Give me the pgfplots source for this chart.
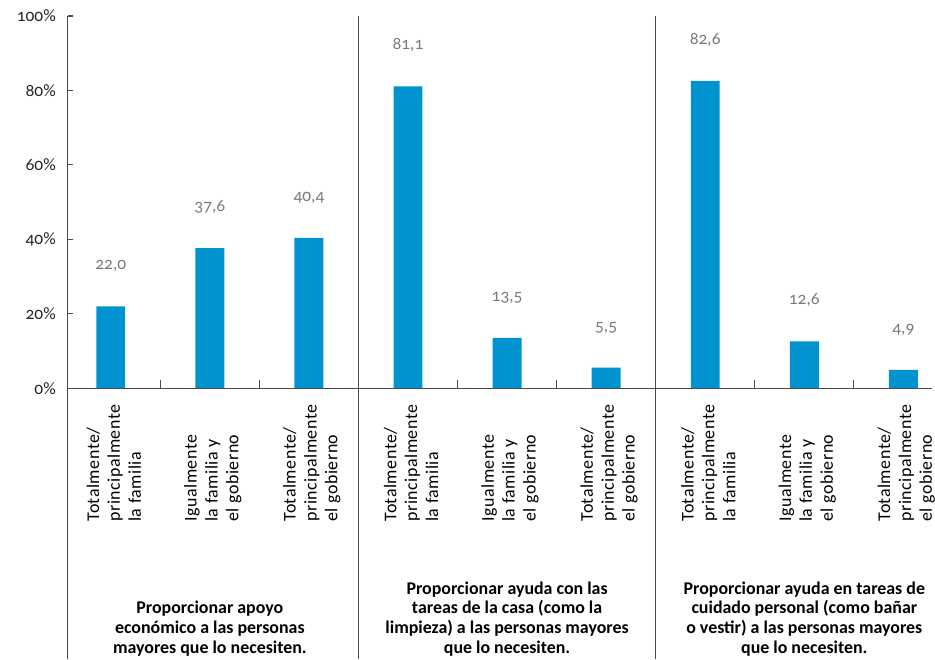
\documentclass[border=0pt]{standalone}
\usepackage{fontspec}
\setmainfont{Carlito}[Numbers=OldStyle]
\usepackage{pgfplots}
\pgfplotsset{compat=1.18}
\definecolor{barblue}{HTML}{0093D0}
\definecolor{axisgray}{HTML}{4A4A4A}
\definecolor{valgray}{HTML}{7A7A7A}
\begin{document}
\begin{tikzpicture}
\begin{axis}[
  x=99.3bp, y=3.73bp,
  xmin=-0.433, xmax=8.29, ymin=0, ymax=100,
  clip=false,
  axis x line*=bottom, axis y line*=left,
  axis line style={axisgray, line width=1.1pt},
  ybar, bar width=29bp,
  /pgf/number format/assume math mode=true,
  ytick={0,20,40,60,80,100},
  yticklabel={\pgfmathprintnumber{\tick}\%},
  yticklabel style={font=\fontsize{17.5}{20}\selectfont, text=black!85, anchor=east, inner sep=0pt},
  yticklabel shift=12bp,
  ytick style={axisgray, line width=1.1pt},
  tick align=inside,
  major tick length=5bp,
  xtick={0,...,8},
  major x tick style={draw=none},
  minor xtick={0.5,1.5,3.5,4.5,6.5,7.5},
  minor x tick style={axisgray, line width=1.1pt},
  minor tick length=8bp,
  xticklabels={
    {Totalmente/\\principalmente\\la familia},
    {Igualmente\\la familia y\\el gobierno},
    {Totalmente/\\principalmente\\el gobierno},
    {Totalmente/\\principalmente\\la familia},
    {Igualmente\\la familia y\\el gobierno},
    {Totalmente/\\principalmente\\el gobierno},
    {Totalmente/\\principalmente\\la familia},
    {Igualmente\\la familia y\\el gobierno},
    {Totalmente/\\principalmente\\el gobierno}},
  xticklabel style={font=\fontsize{18}{21}\selectfont\addfontfeature{LetterSpace=3}, rotate=90, anchor=west, align=left, inner sep=0pt, text=black, yshift=-3bp},
  xticklabel shift=134bp,
  nodes near coords={\pgfmathprintnumber[fixed,fixed zerofill,precision=1,use comma]{\pgfplotspointmeta}},
  every node near coord/.append style={font=\fontsize{17.5}{20}\selectfont, text=valgray, inner sep=0pt, yshift=34bp},
]
\addplot[fill=barblue, draw=none] coordinates {(0,22.0) (1,37.6) (2,40.4) (3,81.1) (4,13.5) (5,5.5) (6,82.6) (7,12.6) (8,4.9)};

\draw[axisgray, line width=1.1pt] (axis cs:-0.433,0) -- (axis cs:-0.433,-72.65);
\draw[axisgray, line width=1.1pt] (axis cs:2.5,100) -- (axis cs:2.5,-72.65);
\draw[axisgray, line width=1.1pt] (axis cs:5.5,100) -- (axis cs:5.5,-72.65);

\node[anchor=south, align=center, font=\fontsize{18}{19.8}\selectfont\bfseries, inner sep=0pt] at (axis cs:1,-72) {Proporcionar apoyo\\económico a las personas\\mayores que lo necesiten.};
\node[anchor=south, align=center, font=\fontsize{18}{19.8}\selectfont\bfseries, inner sep=0pt] at (axis cs:4,-72) {Proporcionar ayuda con las\\tareas de la casa (como la\\limpieza) a las personas mayores\\que lo necesiten.};
\node[anchor=south, align=center, font=\fontsize{18}{19.8}\selectfont\bfseries, inner sep=0pt] at (axis cs:7,-72) {Proporcionar ayuda en tareas de\\cuidado personal (como bañar\\o vestir) a las personas mayores\\que lo necesiten.};

\path (axis cs:-1.118,-72.65) rectangle (axis cs:8.298,104.3);
\end{axis}
\end{tikzpicture}
\end{document}
